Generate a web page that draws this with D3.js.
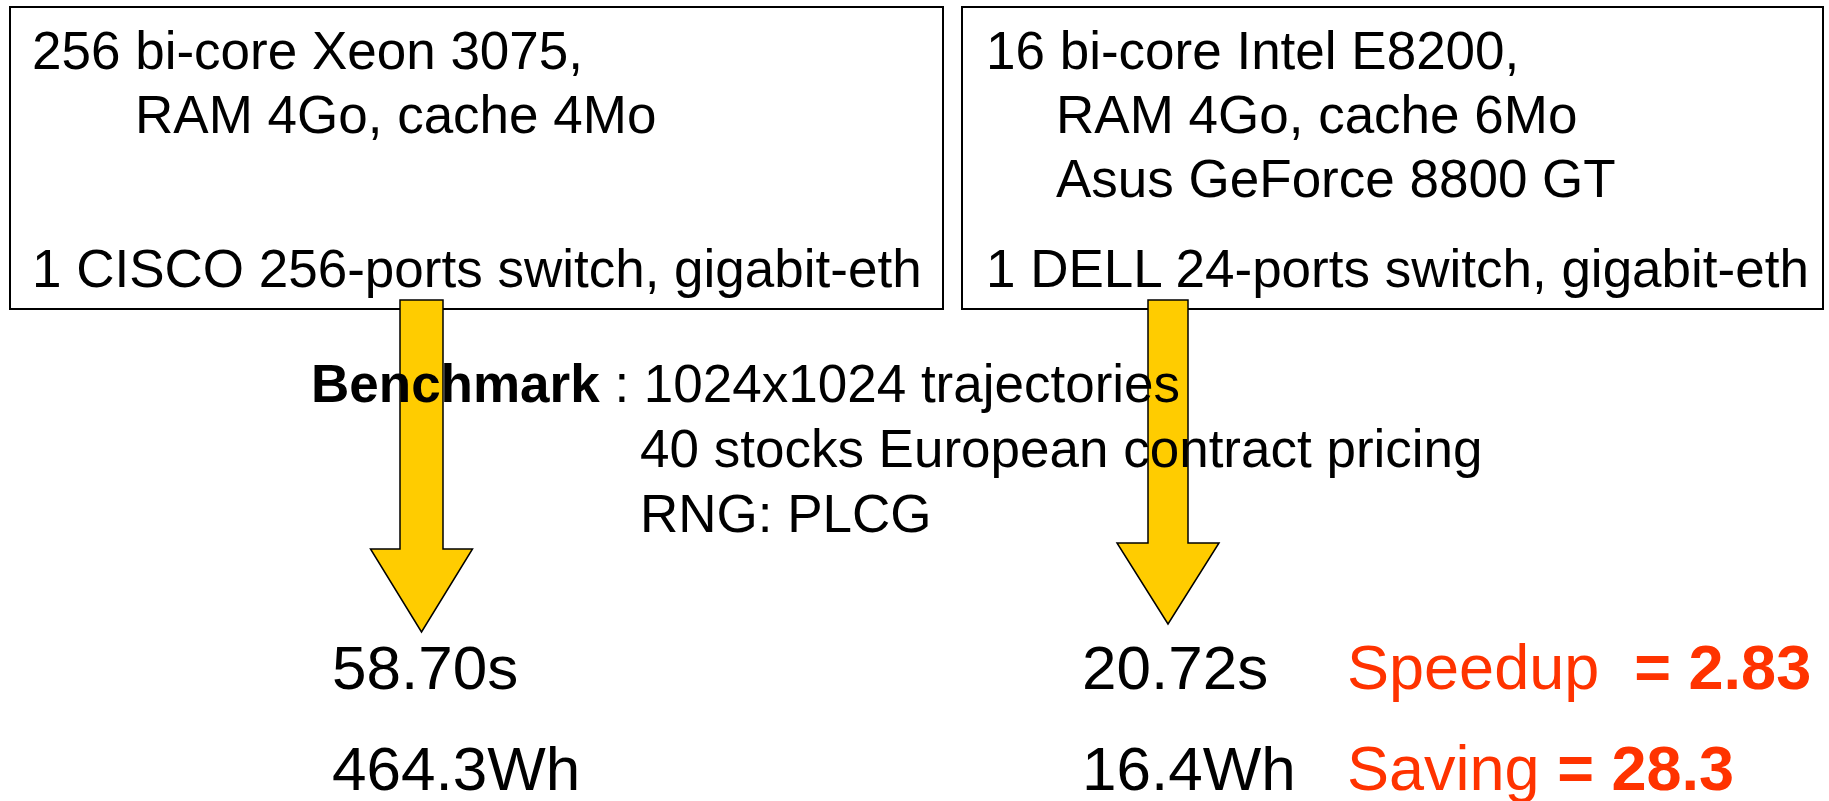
<!DOCTYPE html>
<html>
<head>
<meta charset="utf-8">
<script src="https://cdn.jsdelivr.net/npm/d3@7"></script>
<style>
  html, body { margin: 0; padding: 0; background: #fff; }
  svg text { font-family: "Liberation Sans", Arial, sans-serif; white-space: pre; }
</style>
</head>
<body>
<div id="diagram"></div>
<script>
// Content of the two hardware boxes
const leftBoxLines = [
  { text: "256 bi-core Xeon 3075,", indent: false, row: 0 },
  { text: "RAM 4Go, cache 4Mo", indent: true, row: 1 },
  { text: "1 CISCO 256-ports switch, gigabit-eth", indent: false, row: 3.4 }
];
const rightBoxLines = [
  { text: "16 bi-core Intel E8200,", indent: false, row: 0 },
  { text: "RAM 4Go, cache 6Mo", indent: true, row: 1 },
  { text: "Asus GeForce 8800 GT", indent: true, row: 2 },
  { text: "1 DELL 24-ports switch, gigabit-eth", indent: false, row: 3.4 }
];
const benchmarkLines = [
  "1024x1024 trajectories",
  "40 stocks European contract pricing",
  "RNG: PLCG"
];
// results: time and energy for each cluster
const leftResults = ["58.70s", "464.3Wh"];
const rightResults = ["20.72s", "16.4Wh"];
const gains = [
  { label: "Speedup  ", value: "= 2.83" },
  { label: "Saving ", value: "= 28.3" }
];

const width = 1829, height = 801;
const red = "#ff3300", yellow = "#ffcc00";

const svg = d3.select("#diagram")
  .append("svg")
  .attr("width", width)
  .attr("height", height);

// layout of the boxes
const boxes = [
  { x: 10, y: 7, w: 933, h: 302, textX: 32, indentX: 135, lines: leftBoxLines },
  { x: 962, y: 7, w: 861, h: 302, textX: 986, indentX: 1056, lines: rightBoxLines }
];
const rowStep = 64, firstBase = 69;

const box = svg.selectAll("g.box")
  .data(boxes)
  .enter()
  .append("g")
  .attr("class", "box");

box.append("rect")
  .attr("x", d => d.x)
  .attr("y", d => d.y)
  .attr("width", d => d.w)
  .attr("height", d => d.h)
  .attr("fill", "none")
  .attr("stroke", "#000")
  .attr("stroke-width", 2);

box.selectAll("text")
  .data(d => d.lines.map(l => ({ ...l, bx: d })))
  .enter()
  .append("text")
  .attr("x", d => d.indent ? d.bx.indentX : d.bx.textX)
  .attr("y", d => firstBase + d.row * rowStep)
  .attr("font-size", 53)
  .text(d => d.text);

// arrows from the switches down to the results
const arrows = [
  { cx: 421.5, shaftW: 43, top: 300, headTop: 549, headW: 102, tip: 632 },
  { cx: 1168, shaftW: 40, top: 300, headTop: 543, headW: 102, tip: 624 }
];
function arrowPath(a) {
  const s = a.shaftW / 2, h = a.headW / 2;
  const p = d3.path();
  p.moveTo(a.cx - s, a.top);
  p.lineTo(a.cx + s, a.top);
  p.lineTo(a.cx + s, a.headTop);
  p.lineTo(a.cx + h, a.headTop);
  p.lineTo(a.cx, a.tip);
  p.lineTo(a.cx - h, a.headTop);
  p.lineTo(a.cx - s, a.headTop);
  p.closePath();
  return p.toString();
}
svg.selectAll("path.arrow")
  .data(arrows)
  .enter()
  .append("path")
  .attr("class", "arrow")
  .attr("d", arrowPath)
  .attr("fill", yellow)
  .attr("stroke", "#000")
  .attr("stroke-width", 1.5)
  .attr("stroke-linejoin", "miter");

// benchmark description
const bench = svg.append("text")
  .attr("x", 311)
  .attr("y", 402)
  .attr("font-size", 53);
bench.append("tspan").attr("font-weight", "bold").text("Benchmark");
bench.append("tspan").text(" : " + benchmarkLines[0]);

svg.selectAll("text.bench")
  .data(benchmarkLines.slice(1))
  .enter()
  .append("text")
  .attr("class", "bench")
  .attr("x", 640)
  .attr("y", (d, i) => 467 + i * 65)
  .attr("font-size", 53)
  .text(d => d);

// results
const resY = [689, 790];
svg.selectAll("text.resL")
  .data(leftResults)
  .enter()
  .append("text")
  .attr("class", "resL")
  .attr("x", 332)
  .attr("y", (d, i) => resY[i])
  .attr("font-size", 62)
  .text(d => d);

svg.selectAll("text.resR")
  .data(rightResults)
  .enter()
  .append("text")
  .attr("class", "resR")
  .attr("x", 1082)
  .attr("y", (d, i) => resY[i])
  .attr("font-size", 62)
  .text(d => d);

const g = svg.selectAll("text.gain")
  .data(gains)
  .enter()
  .append("text")
  .attr("class", "gain")
  .attr("x", 1347)
  .attr("y", (d, i) => resY[i])
  .attr("font-size", 63)
  .attr("fill", red);
g.append("tspan").text(d => d.label);
g.append("tspan").attr("font-weight", "bold").text(d => d.value);
</script>
</body>
</html>
